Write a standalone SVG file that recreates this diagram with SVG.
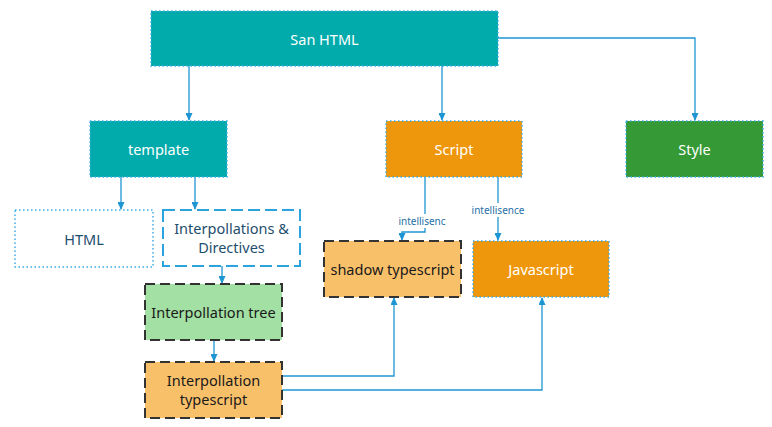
<svg xmlns="http://www.w3.org/2000/svg" width="772" height="427" viewBox="0 0 772 427">
<style>
.t{font-family:"Noto Sans","Open Sans",sans-serif;font-size:14.5px;text-anchor:middle;dominant-baseline:central}
.w{fill:#fff}
.k{fill:#1a1a1a}
.b{fill:#1e4e6e}
.dot{stroke:#3aaee6;stroke-width:1.5;stroke-dasharray:1.5 2.5}
.dash{stroke:#2aa3df;stroke-width:2;stroke-dasharray:12 5}
.dk{stroke:#333;stroke-width:2;stroke-dasharray:10 5}
.c{fill:none;stroke:#1f96d3;stroke-width:1.3}
.lb{font-family:"Noto Sans","Open Sans",sans-serif;font-size:10px;fill:#1f6fa6;text-anchor:middle;dominant-baseline:central}
</style>
<defs>
<marker id="a" markerWidth="8" markerHeight="7" refX="7" refY="3.5" orient="auto" markerUnits="userSpaceOnUse">
<path d="M0,0 L8,3.5 L0,7 Z" fill="#1f96d3"/>
</marker>
</defs>
<g id="connectors">
<path class="c" d="M189,66 V120" marker-end="url(#a)"/>
<path class="c" d="M442,66 V120" marker-end="url(#a)"/>
<path class="c" d="M498,38 H695 V120" marker-end="url(#a)"/>
<path class="c" d="M121,177 V209" marker-end="url(#a)"/>
<path class="c" d="M195,177 V209" marker-end="url(#a)"/>
<path class="c" d="M222,266 V283" marker-end="url(#a)"/>
<path class="c" d="M214,340 V361" marker-end="url(#a)"/>
<path class="c" d="M425,177 V232 H402 V240" marker-end="url(#a)"/>
<path class="c" d="M498,177 V240" marker-end="url(#a)"/>
<path class="c" d="M282,376 H394 V298" marker-end="url(#a)"/>
<path class="c" d="M282,390 H542 V298" marker-end="url(#a)"/>
<rect x="398" y="214" width="48" height="14" fill="#fff"/>
<text class="lb" x="422" y="221">intellisenc</text>
<rect x="470" y="203" width="56" height="14" fill="#fff"/>
<text class="lb" x="498" y="210">intellisence</text>
</g>
<g id="san-html">
<rect x="151" y="11" width="347" height="55" fill="#02abab" class="dot"/>
<text class="t w" x="324.5" y="38.5">San HTML</text>
</g>
<g id="template">
<rect x="90" y="121" width="137" height="56" fill="#02abab" class="dot"/>
<text class="t w" x="158.5" y="149">template</text>
</g>
<g id="script">
<rect x="386" y="121" width="136" height="56" fill="#ef970c" class="dot"/>
<text class="t w" x="454" y="149">Script</text>
</g>
<g id="style">
<rect x="626" y="121" width="137" height="56" fill="#359a35" class="dot"/>
<text class="t w" x="694.5" y="149">Style</text>
</g>
<g id="html">
<rect x="15" y="210" width="138" height="57" fill="#fff" class="dot"/>
<text class="t b" x="84" y="238.5">HTML</text>
</g>
<g id="interpollations">
<rect x="163" y="210" width="137" height="56" fill="#fff" class="dash"/>
<text class="t b" x="231.5" y="228">Interpollations &amp;</text>
<text class="t b" x="231.5" y="247">Directives</text>
</g>
<g id="interpollation-tree">
<rect x="145" y="284" width="137" height="56" fill="#a3e0a3" class="dk"/>
<text class="t k" x="213.5" y="312">Interpollation tree</text>
</g>
<g id="interpollation-typescript">
<rect x="145" y="362" width="137" height="56" fill="#f9c06a" class="dk"/>
<text class="t k" x="213.5" y="380">Interpollation</text>
<text class="t k" x="213.5" y="399">typescript</text>
</g>
<g id="shadow-typescript">
<rect x="324" y="241" width="137" height="56" fill="#f9c06a" class="dk"/>
<text class="t k" x="392.5" y="269">shadow typescript</text>
</g>
<g id="javascript">
<rect x="473" y="241" width="136" height="56" fill="#ef970c" class="dot"/>
<text class="t w" x="541" y="269">Javascript</text>
</g>
</svg>
